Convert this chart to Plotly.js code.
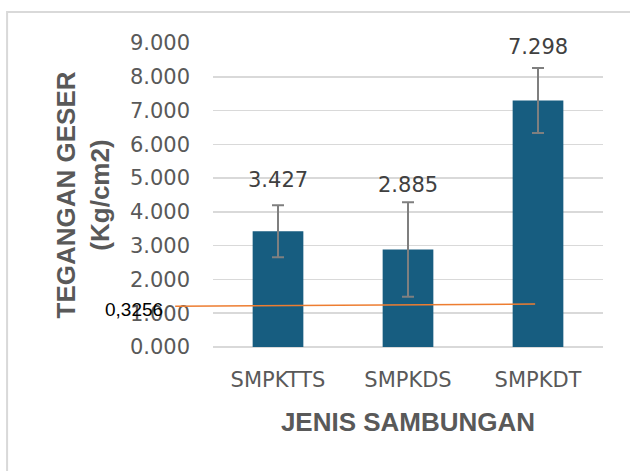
<!DOCTYPE html>
<html>
<head>
<meta charset="utf-8">
<script src="https://cdn.plot.ly/plotly-3.0.1.min.js"></script>
<style>html,body{margin:0;padding:0;background:#fff;}#chart{width:630px;height:471px;}</style>
</head>
<body>
<div id="chart"></div>
<script>
// Data
const categories = ["SMPKTTS", "SMPKDS", "SMPKDT"];
const shearStress = [3.427, 2.885, 7.298];
const errorValues = [0.77, 1.40, 0.96];
const refLineY = [1.21, 1.27];
const refLineLabel = "0,3256";
const yTickValues = [0, 1, 2, 3, 4, 5, 6, 7, 8, 9];
const labelShift = [25, 17, 21];

const tickFont = {family: "DejaVu Sans", size: 21, color: "#595959"};
const titleFont = {family: "Liberation Sans", size: 26, color: "#595959", weight: "bold"};

const trace = {
  type: "bar",
  x: categories,
  y: shearStress,
  marker: {color: "#175d80"},
  error_y: {type: "data", array: errorValues, visible: true, color: "#7f7f7f", thickness: 2, width: 6},
  hoverinfo: "x+y"
};

const annotations = categories.map((c, i) => ({
  x: c, y: shearStress[i] + errorValues[i], xref: "x", yref: "y",
  text: shearStress[i].toFixed(3), showarrow: false,
  yanchor: "middle", yshift: labelShift[i],
  font: {family: "DejaVu Sans", size: 21, color: "#404040"}
}));
annotations.push({
  xref: "paper", yref: "y", x: -0.097, y: refLineY[0], xanchor: "right", yanchor: "middle",
  xshift: -10, yshift: -3,
  text: refLineLabel, showarrow: false,
  font: {family: "Liberation Sans", size: 19, color: "#000000"}
});

const layout = {
  width: 630, height: 471,
  margin: {l: 213, r: 27, t: 43, b: 124},
  paper_bgcolor: "#ffffff", plot_bgcolor: "#ffffff",
  bargap: 0.61,
  showlegend: false,
  xaxis: {
    type: "category",
    tickfont: tickFont,
    showgrid: false, showline: false, zeroline: false, ticks: "",
    ticklabelstandoff: 18,
    title: {text: "JENIS SAMBUNGAN", font: titleFont, standoff: 21}
  },
  yaxis: {
    range: [0, 9],
    tickvals: yTickValues,
    tickformat: ".3f",
    tickfont: tickFont,
    showgrid: true, gridcolor: "#d9d9d9", gridwidth: 1.5,
    zeroline: true, zerolinecolor: "#d9d9d9", zerolinewidth: 1.5,
    showline: false, ticks: "",
    ticklabelstandoff: 22,
    title: {text: "TEGANGAN GESER<br>(Kg/cm2)", font: titleFont, standoff: 12}
  },
  shapes: [
    {type: "line", xref: "paper", yref: "y", x0: -0.097, x1: 0.826, y0: refLineY[0], y1: refLineY[1],
     line: {color: "#ed7d31", width: 1.5}, layer: "above"},
    {type: "rect", xref: "paper", yref: "paper", x0: -0.528, x1: 1.08, y0: -0.45, y1: 1.102,
     line: {color: "#d9d9d9", width: 2}, fillcolor: "rgba(0,0,0,0)", layer: "below"}
  ],
  annotations: annotations
};

Plotly.newPlot("chart", [trace], layout, {displayModeBar: false, staticPlot: true});
</script>
</body>
</html>
